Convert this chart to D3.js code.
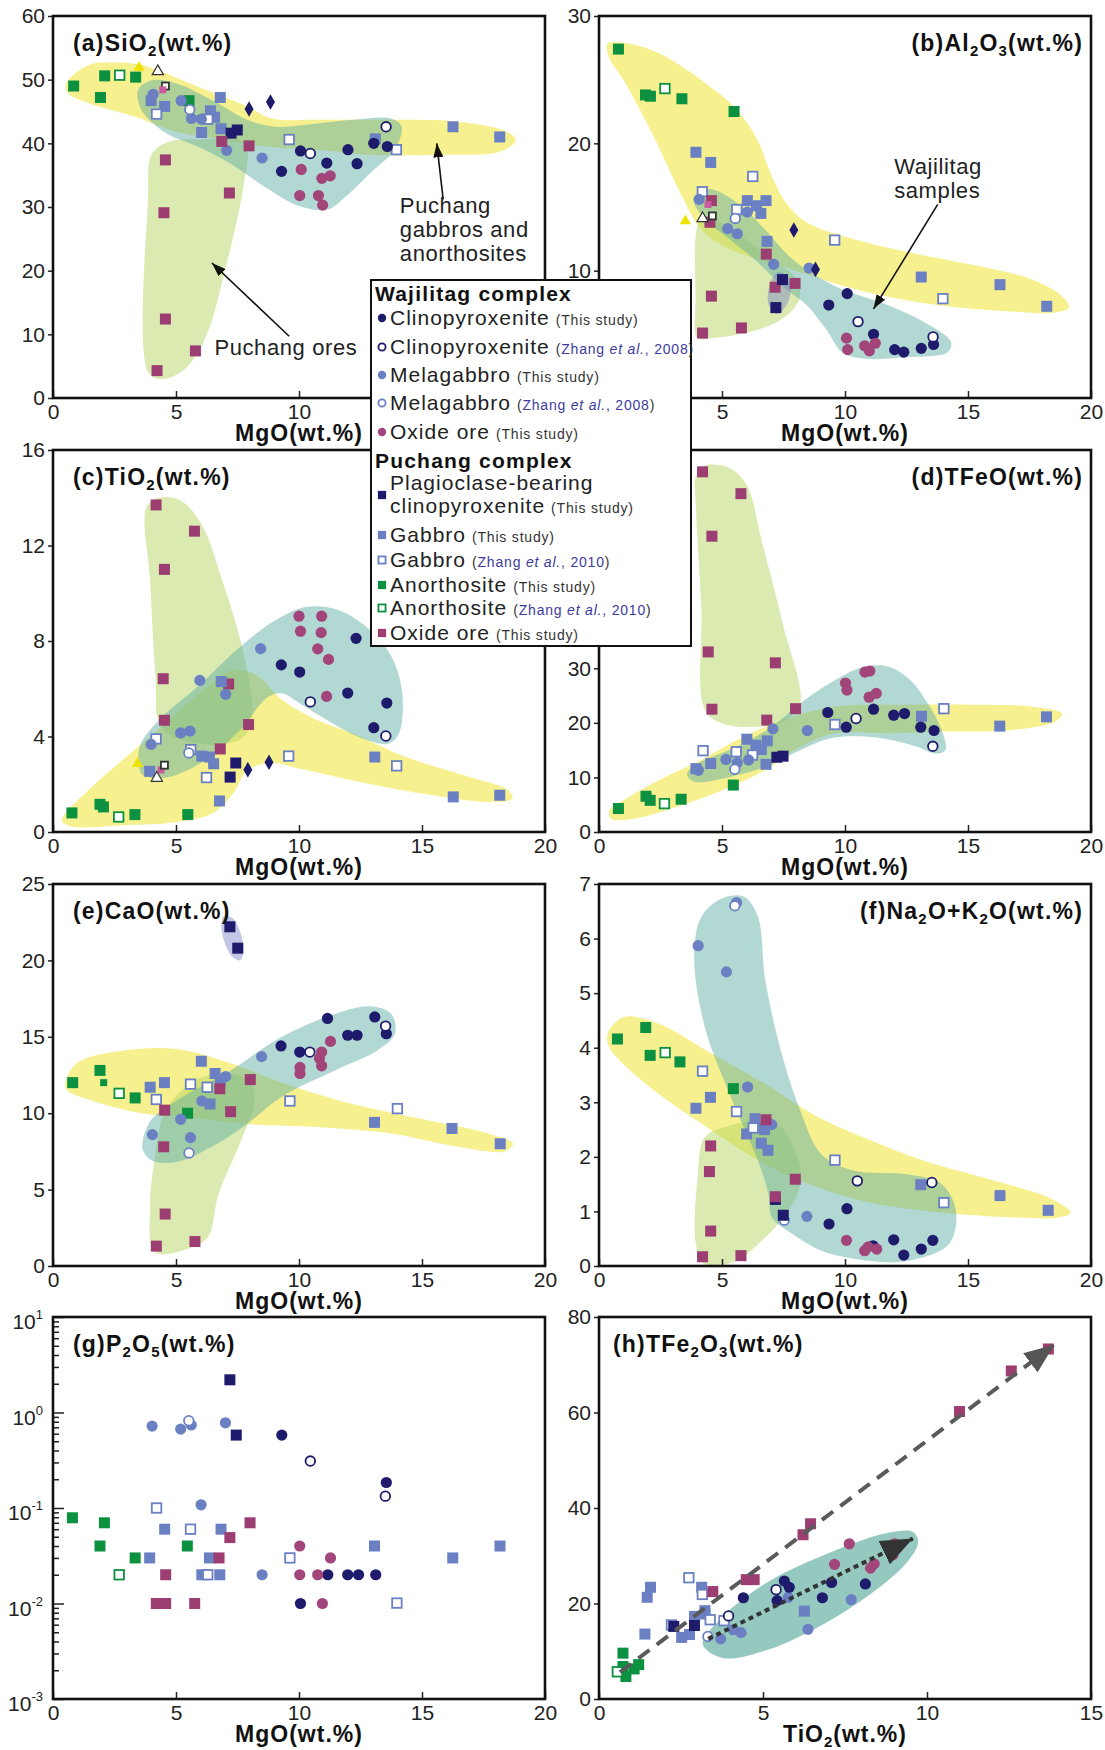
<!DOCTYPE html>
<html lang="en">
<head>
<meta charset="UTF-8">
<title>Wajilitag and Puchang complexes - major elements vs MgO</title>
<script src="https://d3js.org/d3.v7.min.js"></script>
<style>
  body { margin: 0; background: #fff; font-family: "Liberation Sans", Arial, sans-serif; }
  .axis path { display: none; }
  .axis line { stroke: #222; stroke-width: 1.5; }
  .axis text, .tlab { font-family: "Liberation Sans", Arial, sans-serif; font-size: 21px; fill: #222; }
  .ptitle { font-family: "Liberation Sans", Arial, sans-serif; font-size: 23px; font-weight: bold; fill: #111; letter-spacing: 1.2px; }
  .xlab { font-family: "Liberation Sans", Arial, sans-serif; font-size: 23px; font-weight: bold; fill: #111; letter-spacing: 1px; }
  .note { font-family: "Liberation Sans", Arial, sans-serif; font-size: 22px; fill: #222; letter-spacing: 0.6px; }
  .lgHead { font-size: 21px; font-weight: bold; fill: #111; letter-spacing: 1.2px; }
  .lgName { font-size: 21px; fill: #222; letter-spacing: 1px; }
  .lgRef { font-size: 14px; fill: #333; letter-spacing: 0.8px; }
</style>
</head>
<body>
<div id="chart"></div>
<script>
// ---------- data ----------
// each point: [series code, MgO (or TiO2 in h), oxide value]
const ptsA = [
  ["ano",0.84,49.0],["ano",2.1,50.6],["ano",1.93,47.2],["ano",3.36,50.4],["ano",5.53,46.7],
  ["anoZ",2.71,50.7],
  ["tri",3.5,51.9],["triW",4.26,51.3],["sqW",4.57,49.0],["sqP",4.46,48.4],
  ["gab",3.99,46.7],["gab",4.54,45.8],["gab",6.8,47.2],["gab",6.4,45.1],["gab",6.57,44.1],["gab",6.83,42.3],["gab",6.04,41.7],["gab",13.1,40.7],["gab",16.26,42.6],["gab",18.16,41.0],
  ["gabZ",4.21,44.6],["gabZ",6.29,43.8],["gabZ",9.6,40.6],["gabZ",13.96,39.0],
  ["mela",4.07,47.7],["mela",5.21,46.7],["mela",5.63,43.9],["mela",6.03,43.8],["mela",7.06,38.9],["mela",8.5,37.7],
  ["melaZ",5.56,45.3],
  ["cpx",10.06,38.8],["cpx",9.29,35.6],["cpx",11.13,36.9],["cpx",11.99,39.0],["cpx",12.36,36.8],["cpx",13.04,40.0],["cpx",13.59,39.5],
  ["cpxZ",10.46,38.4],["cpxZ",13.54,42.6],
  ["oreW",10.09,35.9],["oreW",10.93,34.5],["oreW",11.27,34.9],["oreW",10.03,31.8],["oreW",10.79,31.8],["oreW",10.96,30.3],
  ["pcpx",7.24,41.6],["pcpx",7.49,42.1],
  ["dia",7.97,45.4],["dia",8.84,46.5],
  ["oreP",6.86,40.3],["oreP",7.97,39.6],["oreP",4.57,37.4],["oreP",7.17,32.2],["oreP",4.51,29.1],["oreP",4.57,12.4],["oreP",5.79,7.4],["oreP",4.23,4.3]
];
const ptsB = [
  ["ano",0.79,27.4],["ano",1.89,23.8],["ano",2.09,23.7],["ano",3.37,23.5],["ano",5.49,22.5],
  ["anoZ",2.68,24.3],
  ["gab",3.94,19.3],["gab",4.54,18.5],["gab",6.03,15.5],["gab",6.4,15.1],["gab",6.79,15.5],["gab",6.58,14.5],["gab",6.83,12.3],["gab",13.1,9.5],["gab",16.3,8.9],["gab",18.2,7.2],
  ["gabZ",4.2,16.2],["gabZ",6.25,17.4],["gabZ",5.6,14.8],["gabZ",9.58,12.4],["gabZ",13.98,7.8],
  ["mela",4.07,15.6],["mela",6.03,14.6],["mela",5.23,13.3],["mela",5.62,12.9],["mela",7.1,10.5],["mela",8.54,10.2],
  ["melaZ",5.54,14.1],
  ["oreP",4.57,15.5],["oreP",4.51,13.8],["oreP",6.8,11.3],["oreP",7.16,8.7],["oreP",7.97,9.0],["oreP",4.57,8.0],["oreP",5.79,5.5],["oreP",4.21,5.1],
  ["tri",3.51,13.9],["triW",4.21,14.1],["sqW",4.61,14.3],["sqP",4.43,15.2],
  ["dia",7.92,13.2],["dia",8.8,10.1],
  ["pcpx",7.46,9.3],["pcpx",7.19,7.1],
  ["cpx",10.09,8.2],["cpx",9.34,7.3],["cpx",11.16,5.0],["cpx",12.02,3.8],["cpx",12.39,3.6],["cpx",13.1,3.9],["cpx",13.6,4.2],
  ["cpxZ",10.53,6.0],["cpxZ",13.58,4.8],
  ["oreW",10.06,4.7],["oreW",10.11,3.8],["oreW",10.8,4.1],["oreW",10.99,3.7],["oreW",11.23,4.3]
];
const ptsC = [
  ["ano",0.77,0.8],["ano",1.91,1.16],["ano",2.05,1.05],["ano",3.33,0.73],["ano",5.48,0.73],
  ["anoZ",2.67,0.63],
  ["oreP",4.19,13.7],["oreP",5.75,12.6],["oreP",4.53,11.0],["oreP",4.48,6.42],["oreP",4.53,4.68],["oreP",7.14,6.2],["oreP",7.95,4.5],["oreP",6.8,3.48],
  ["gab",6.84,6.3],["gab",3.93,2.54],["gab",6.05,3.18],["gab",6.36,3.14],["gab",6.53,2.86],["gab",6.77,1.3],["gab",13.08,3.14],["gab",16.27,1.47],["gab",18.16,1.54],
  ["gabZ",4.19,3.9],["gabZ",5.6,3.45],["gabZ",6.24,2.28],["gabZ",9.58,3.18],["gabZ",13.97,2.77],
  ["sqP",4.39,2.6],["sqW",4.53,2.8],["triW",4.22,2.26],["tri",3.44,2.86],
  ["mela",5.97,6.35],["mela",7.02,5.77],["mela",3.99,3.67],["mela",5.19,4.15],["mela",5.57,4.23],["mela",8.44,7.68],
  ["melaZ",5.52,3.31],
  ["pcpx",7.43,2.89],["pcpx",7.2,2.3],
  ["dia",7.92,2.61],["dia",8.78,2.92],
  ["cpx",9.28,7.0],["cpx",10.03,6.7],["cpx",12.32,8.11],["cpx",11.98,5.82],["cpx",13.04,4.37],["cpx",13.57,5.4],
  ["cpxZ",10.46,5.45],["cpxZ",13.53,4.02],
  ["oreW",10.0,9.04],["oreW",10.92,9.04],["oreW",10.06,8.41],["oreW",10.9,8.35],["oreW",10.76,7.67],["oreW",11.2,7.23],["oreW",11.12,5.68]
];
const ptsD = [
  ["oreP",4.21,66.0],["oreP",5.77,62.0],["oreP",4.59,54.2],["oreP",4.44,33.0],["oreP",7.17,31.0],["oreP",4.59,22.5],["oreP",7.99,22.6],["oreP",6.82,20.5],
  ["ano",0.79,4.3],["ano",1.91,6.55],["ano",2.08,5.8],["ano",3.34,6.0],["ano",5.46,8.6],
  ["anoZ",2.66,5.2],
  ["gab",3.94,11.6],["gab",4.54,12.55],["gab",6.01,17.0],["gab",6.38,15.9],["gab",6.6,15.1],["gab",6.84,16.7],["gab",6.79,12.4],["gab",13.11,21.2],["gab",16.29,19.4],["gab",18.19,21.1],
  ["gabZ",4.23,14.9],["gabZ",5.58,14.7],["gabZ",6.24,14.1],["gabZ",9.59,19.7],["gabZ",14.02,22.6],
  ["mela",4.04,11.3],["mela",5.16,13.3],["mela",5.62,12.7],["mela",6.08,13.2],["mela",7.07,18.9],["mela",8.47,18.6],
  ["melaZ",5.52,11.5],
  ["pcpx",7.23,13.7],["pcpx",7.48,13.9],
  ["cpx",9.3,21.9],["cpx",10.05,19.2],["cpx",11.16,22.5],["cpx",11.98,21.4],["cpx",12.42,21.7],["cpx",13.08,19.2],["cpx",13.62,18.6],
  ["cpxZ",10.45,20.8],["cpxZ",13.57,15.7],
  ["oreW",10.02,27.3],["oreW",10.08,26.0],["oreW",10.81,29.3],["oreW",11.01,29.5],["oreW",10.98,24.7],["oreW",11.27,25.4]
];
const ptsE = [
  ["pcpx",7.19,22.2],["pcpx",7.51,20.8],
  ["ano",0.8,12.0],["ano",1.91,12.8],["anoS",2.06,12.0],["ano",3.34,11.0],["ano",5.47,10.0],
  ["anoZ",2.69,11.3],
  ["gab",3.95,11.7],["gab",4.53,12.0],["gab",6.03,13.4],["gab",6.59,12.6],["gab",6.8,12.1],["gab",6.38,10.6],["gab",13.07,9.4],["gab",16.22,9.0],["gab",18.18,8.0],
  ["gabZ",4.2,10.9],["gabZ",5.59,11.9],["gabZ",6.27,11.7],["gabZ",9.63,10.8],["gabZ",14.0,10.3],
  ["mela",4.04,8.6],["mela",5.19,9.6],["mela",5.59,8.4],["mela",6.05,10.8],["mela",7.02,12.4],["mela",8.48,13.7],
  ["melaZ",5.53,7.4],
  ["oreP",4.54,10.2],["oreP",4.5,7.8],["oreP",4.56,3.4],["oreP",4.2,1.3],["oreP",5.77,1.6],["oreP",6.78,11.6],["oreP",7.22,10.1],["oreP",8.02,12.2],
  ["cpx",9.27,14.4],["cpx",10.03,14.0],["cpx",11.16,16.2],["cpx",11.98,15.1],["cpx",12.36,15.1],["cpx",13.08,16.3],["cpx",13.55,15.2],
  ["cpxZ",10.44,14.0],["cpxZ",13.52,15.7],
  ["oreW",10.04,13.0],["oreW",10.04,12.6],["oreW",10.92,14.0],["oreW",10.83,13.6],["oreW",10.92,13.1],["oreW",11.28,14.7]
];
const ptsF = [
  ["mela",5.59,6.66],["mela",4.03,5.87],["mela",5.18,5.39],["mela",6.04,3.28],["mela",7.02,2.59],["mela",8.45,0.91],
  ["melaZ",5.52,6.6],["melaZ",7.53,0.84],
  ["ano",0.75,4.16],["ano",1.9,4.37],["ano",2.08,3.86],["ano",3.29,3.74],["ano",5.46,3.25],
  ["anoZ",2.69,3.91],
  ["gab",3.94,2.89],["gab",4.53,3.09],["gab",6.34,2.7],["gab",6.73,2.5],["gab",6.0,2.42],["gab",6.6,2.25],["gab",6.87,2.12],["gab",13.08,1.49],["gab",16.3,1.29],["gab",18.26,1.02],
  ["gabZ",4.21,3.57],["gabZ",5.59,2.83],["gabZ",6.27,2.53],["gabZ",9.59,1.94],["gabZ",14.02,1.16],
  ["pcpx",7.17,1.22],["pcpx",7.49,0.93],
  ["oreP",6.79,2.68],["oreP",4.54,2.2],["oreP",4.49,1.73],["oreP",4.54,0.64],["oreP",4.21,0.17],["oreP",5.77,0.19],["oreP",7.17,1.27],["oreP",7.98,1.59],
  ["cpx",10.08,1.05],["cpx",9.35,0.77],["cpx",11.14,0.37],["cpx",11.98,0.48],["cpx",12.39,0.2],["cpx",13.1,0.31],["cpx",13.57,0.47],
  ["cpxZ",10.5,1.56],["cpxZ",13.53,1.53],
  ["oreW",10.06,0.47],["oreW",10.8,0.28],["oreW",10.94,0.35],["oreW",11.29,0.31]
];
const ptsG = [
  ["pcpx",7.19,2.2],["pcpx",7.45,0.58],
  ["mela",4.03,0.72],["mela",5.19,0.67],["mela",5.62,0.74],["mela",7.01,0.78],["mela",6.02,0.108],["mela",8.5,0.02],
  ["melaZ",5.52,0.82],
  ["cpx",9.3,0.58],["cpx",13.55,0.185],["cpx",10.06,0.01],["cpx",11.17,0.02],["cpx",11.98,0.02],["cpx",12.42,0.02],["cpx",13.12,0.02],
  ["cpxZ",10.46,0.31],["cpxZ",13.51,0.133],
  ["gab",4.54,0.06],["gab",6.83,0.06],["gab",3.93,0.03],["gab",6.36,0.03],["gab",6.05,0.02],["gab",6.78,0.02],["gab",13.07,0.04],["gab",16.25,0.03],["gab",18.17,0.04],
  ["gabZ",4.21,0.1],["gabZ",5.59,0.06],["gabZ",6.29,0.02],["gabZ",9.63,0.03],["gabZ",13.98,0.0101],
  ["ano",0.79,0.079],["ano",2.09,0.07],["ano",1.91,0.04],["ano",3.34,0.03],["ano",5.46,0.04],
  ["anoZ",2.69,0.02],
  ["oreP",8.01,0.07],["oreP",7.19,0.049],["oreP",6.75,0.03],["oreP",4.58,0.02],["oreP",4.2,0.01],["oreP",4.37,0.01],["oreP",4.58,0.01],["oreP",5.76,0.01],
  ["oreW",10.03,0.04],["oreW",11.28,0.03],["oreW",10.03,0.02],["oreW",10.76,0.02],["oreW",10.95,0.01]
];
const ptsH = [
  ["ano",0.73,9.6],["ano",0.73,6.8],["ano",0.82,4.7],["ano",1.07,6.3],["ano",1.21,7.2],
  ["anoZ",0.56,5.7],
  ["gab",1.57,23.4],["gab",1.47,21.3],["gab",1.4,13.6],["gab",2.52,12.9],["gab",2.76,13.5],["gab",2.91,17.3],["gab",3.13,23.4],["gab",3.23,18.5],["gab",3.23,17.8],["gab",6.26,18.4],
  ["gabZ",2.74,25.4],["gabZ",3.15,21.9],["gabZ",2.21,15.5],["gabZ",3.39,16.6],["gabZ",3.81,16.4],
  ["pcpx",2.28,15.2],["pcpx",2.91,15.4],
  ["oreP",3.47,22.5],["oreP",4.49,25.0],["oreP",4.73,25.0],["oreP",6.22,34.4],["oreP",6.45,36.7],["oreP",10.99,60.2],["oreP",12.57,68.7],["oreP",13.7,73.3],
  ["mela",3.71,12.6],["mela",4.33,13.9],["mela",4.09,14.5],["mela",5.77,21.3],["mela",6.37,14.6],["mela",7.69,20.8],
  ["melaZ",3.32,13.1],
  ["cpx",4.4,21.2],["cpx",5.43,20.6],["cpx",5.65,24.7],["cpx",5.8,23.4],["cpx",6.81,21.2],["cpx",7.09,24.4],["cpx",8.12,24.1],
  ["cpxZ",5.4,22.9],["cpxZ",3.95,17.4],
  ["oreW",7.63,32.5],["oreW",7.18,28.2],["oreW",8.28,27.4],["oreW",8.39,28.3],["oreW",8.96,30.2],["oreW",9.01,32.5]
];

// field outlines (data units)
const aYellow = [[0.53,49.4],[1.46,52.3],[2.31,52.7],[3.6,52.3],[5.89,48.9],[7.89,45.8],[8.89,43.9],[10.74,43.7],[13.6,43.7],[16.46,43.4],[18.46,41.8],[18.81,40.5],[18.17,38.7],[15.74,38.2],[12.89,38.2],[10.74,39.0],[8.6,39.5],[7.03,40.5],[5.03,41.8],[3.31,44.2],[1.46,46.3],[0.6,47.9]];
const aGreen = [[3.89,3.9],[3.86,31.1],[4.03,38.4],[4.74,40.3],[5.89,40.6],[7.6,40.5],[7.89,39.5],[7.74,33.2],[7.03,20.7],[6.17,9.2],[5.31,4.4],[4.46,3.0]];
const aTeal = [[3.46,48.4],[4.03,49.9],[5.03,49.4],[6.46,46.8],[7.89,43.7],[9.03,42.6],[10.74,43.1],[12.17,43.7],[13.74,43.9],[14.17,42.6],[13.89,39.0],[13.03,35.8],[11.89,31.6],[11.17,29.6],[10.03,30.1],[8.6,33.2],[7.17,36.9],[5.89,39.5],[4.6,41.6],[3.6,45.2]];
const bYellow = [[0.34,27.8],[0.99,27.9],[2.42,27.1],[4.14,25.0],[5.57,22.7],[6.43,20.3],[7.01,17.5],[7.58,15.4],[8.44,13.8],[10.3,12.5],[12.45,11.5],[15.32,10.4],[17.46,9.4],[18.75,8.1],[19.11,7.1],[18.47,6.7],[16.75,6.8],[14.6,7.1],[12.45,7.7],[10.3,8.6],[8.15,9.9],[6.43,10.9],[5.0,12.0],[4.14,13.3],[3.28,16.2],[2.13,20.9],[0.99,25.0],[0.42,26.7]];
const bGreen = [[4.0,13.5],[4.28,14.3],[5.57,13.0],[7.0,10.9],[8.0,9.4],[8.15,7.8],[7.44,6.2],[6.15,5.2],[4.57,4.7],[4.0,4.7],[3.93,7.8]];
const bTeal = [[3.85,15.6],[4.43,16.4],[5.57,15.4],[6.72,13.3],[7.87,10.9],[9.58,8.8],[11.73,7.3],[13.17,6.0],[14.31,4.4],[14.17,3.6],[12.45,3.2],[10.73,3.1],[9.87,3.6],[9.3,5.2],[8.44,7.3],[7.44,8.8],[6.43,10.7],[5.29,12.5],[4.28,14.1]];
const bLav = [[7.3,9.9],[7.75,9.3],[7.7,7.6],[7.25,6.6],[6.9,7.3],[6.95,9.0]];
const cYellow = [[0.36,0.49],[1.58,1.89],[3.3,3.42],[5.02,4.96],[6.46,6.22],[7.17,6.75],[8.18,6.63],[9.33,5.52],[10.76,4.68],[12.2,4.12],[14.35,3.14],[16.93,2.3],[18.5,1.75],[18.68,1.4],[17.65,1.26],[15.06,1.6],[12.2,2.16],[10.04,2.65],[8.9,2.89],[7.89,2.58],[7.32,1.6],[6.46,0.77],[5.02,0.42],[2.87,0.28],[0.72,0.24]];
const cGreen = [[3.8,13.6],[4.3,14.0],[5.16,13.9],[6.03,12.9],[6.89,10.5],[7.75,7.47],[8.1,4.96],[7.75,3.98],[6.74,3.67],[5.31,3.84],[4.38,4.4],[4.16,6.63],[3.95,10.5]];
const cTeal = [[3.59,2.44],[3.52,3.56],[4.3,4.68],[5.88,6.08],[7.6,7.75],[9.04,8.87],[10.33,9.43],[11.62,9.29],[12.9,8.45],[13.77,7.33],[14.2,5.8],[14.06,4.12],[13.63,3.7],[12.77,3.84],[11.62,4.4],[10.04,5.38],[9.33,5.8],[8.75,5.66],[7.6,4.26],[6.17,3.0],[4.73,2.3],[3.87,2.3]];
const dYellow = [[0.42,4.0],[0.99,5.8],[2.43,9.5],[4.16,13.2],[5.59,16.8],[7.46,20.5],[9.62,23.0],[12.49,23.3],[15.37,23.3],[17.53,23.0],[18.82,21.7],[18.53,20.2],[16.81,18.7],[13.93,18.4],[11.78,18.1],[9.62,18.1],[8.18,15.6],[6.74,11.3],[5.02,7.65],[3.15,4.6],[1.42,2.45],[0.49,2.45]];
const dGreen = [[3.94,65.2],[4.3,67.1],[5.31,66.7],[6.02,63.4],[6.6,53.6],[7.46,38.3],[8.18,23.6],[7.61,20.5],[6.46,19.3],[5.02,19.9],[4.3,22.4],[4.16,41.3],[3.94,59.7]];
const dTeal = [[3.65,11.3],[4.16,12.9],[5.59,15.6],[7.03,19.3],[8.18,23.6],[9.62,27.9],[10.77,30.3],[11.78,30.3],[12.64,27.9],[13.36,23.6],[13.93,18.7],[14.08,15.0],[13.64,14.4],[12.93,15.6],[11.92,16.8],[10.77,17.5],[9.33,17.1],[8.18,15.0],[6.74,11.9],[5.31,10.1],[3.87,9.2],[3.58,10.4]];
const eYellow = [[0.5,12.0],[1.0,13.3],[2.87,14.1],[5.01,14.2],[7.16,13.3],[9.31,12.0],[12.18,10.6],[15.04,9.6],[17.62,8.7],[18.7,8.0],[18.34,7.5],[16.48,7.8],[13.61,8.7],[10.74,9.1],[7.88,9.3],[5.73,9.7],[3.58,10.0],[1.43,10.9],[0.57,11.5]];
const eGreen = [[4.15,7.2],[4.58,10.2],[5.87,12.2],[7.16,12.6],[8.02,12.0],[8.17,10.6],[7.59,8.0],[6.73,4.7],[6.3,1.9],[5.59,1.2],[4.15,0.9],[3.94,3.7]];
const eTeal = [[3.65,8.2],[4.01,9.6],[5.3,11.1],[7.02,12.6],[9.31,15.0],[11.46,16.5],[12.89,17.0],[13.75,16.5],[13.9,15.2],[13.18,14.1],[11.46,12.8],[9.31,11.1],[7.88,9.3],[6.45,7.8],[5.01,6.8],[4.01,6.9],[3.65,7.6]];
const eLav = [[6.95,22.9],[7.35,22.7],[7.75,20.8],[7.6,20.0],[7.25,20.3],[6.85,22.0]];
const fYellow = [[0.35,4.26],[0.99,4.56],[2.43,4.44],[4.59,3.89],[6.74,3.34],[8.9,2.73],[11.06,2.3],[13.21,1.93],[16.09,1.56],[18.25,1.26],[19.18,0.98],[18.68,0.89],[16.81,0.89],[13.93,0.98],[11.06,1.16],[8.9,1.44],[6.74,1.87],[4.59,2.48],[2.43,3.15],[0.99,3.7],[0.42,4.01]];
const fGreen = [[4.3,2.36],[5.31,2.57],[6.46,2.66],[7.32,2.57],[8.03,2.05],[8.18,1.5],[7.6,0.95],[6.46,0.4],[5.59,0.09],[4.3,0.03],[3.94,0.4],[4.01,1.62]];
const fTeal = [[3.87,5.66],[4.16,6.4],[5.02,6.74],[5.88,6.77],[6.46,6.4],[6.74,5.3],[7.32,4.07],[8.18,2.85],[9.04,2.05],[10.34,1.75],[12.49,1.68],[13.93,1.5],[14.51,1.01],[14.22,0.4],[12.49,0.09],[11.06,0.09],[9.04,0.28],[7.89,0.58],[7.03,0.89],[6.89,1.32],[6.46,1.93],[5.31,3.15],[4.3,4.38]];
const hTeal = [[3.16,11.5],[3.65,16.4],[5.05,24.1],[7.2,31.1],[8.82,34.8],[9.57,35.0],[9.73,32.9],[9.35,28.3],[8.28,22.0],[6.66,15.0],[5.05,10.1],[3.76,8.6]];

// annotation text and arrows (data units)
const notesA = [{lines:["Puchang","gabbros and","anorthosites"], x:14.1, y:29.0}, {lines:["Puchang  ores"], x:6.56, y:6.8}];
const arrowsA = [[15.86,31.2,15.6,40.0], [9.6,9.7,6.46,21.2]];
const notesB = [{lines:["Wajilitag","samples"], x:12.0, y:17.6}];
const arrowsB = [[13.77,15.2,11.16,7.0]];
const trendH = { dashed:[0.64,5.6,13.88,74.2], dotted:[3.33,12.6,9.57,33.6] };

// legend entries
const legendWaj = [
  ["cpx","Clinopyroxenite","This study"],
  ["cpxZ","Clinopyroxenite","Zhang et al., 2008"],
  ["mela","Melagabbro","This study"],
  ["melaZ","Melagabbro","Zhang et al., 2008"],
  ["oreW","Oxide  ore","This study"]
];
const legendPuc = [
  ["pcpx","Plagioclase-bearing|clinopyroxenite","This study"],
  ["gab","Gabbro","This study"],
  ["gabZ","Gabbro","Zhang et al., 2010"],
  ["ano","Anorthosite","This study"],
  ["anoZ","Anorthosite","Zhang et al., 2010"],
  ["oreP","Oxide  ore","This study"]
];

// ---------- styles ----------
const navy = "#1e1a6c", blue = "#6a80c3", green = "#0c9141";
const sty = {
  cpx:  {shape:"circle", fill:navy},
  cpxZ: {shape:"circle", fill:"#fff", stroke:navy},
  mela: {shape:"circle", fill:blue},
  melaZ:{shape:"circle", fill:"#fff", stroke:blue},
  oreW: {shape:"circle", fill:"#a2457a"},
  pcpx: {shape:"square", fill:navy},
  gab:  {shape:"square", fill:blue},
  gabZ: {shape:"square", fill:"#fff", stroke:blue},
  ano:  {shape:"square", fill:green},
  anoS: {shape:"small", fill:green},
  anoZ: {shape:"square", fill:"#fff", stroke:green},
  oreP: {shape:"square", fill:"#9c3e72"},
  tri:  {shape:"triangle", fill:"#efe200"},
  triW: {shape:"triangle", fill:"#fff", stroke:"#333"},
  sqW:  {shape:"small", fill:"#fff", stroke:"#333"},
  sqP:  {shape:"small", fill:"#c95b9e"},
  dia:  {shape:"diamond", fill:navy}
};
const regionFill = {
  yellow: ["#f1e64a", 0.62],
  green:  ["#b5d662", 0.5],
  teal:   ["#5faea3", 0.48],
  lav:    ["#7a82c6", 0.45],
  tealH:  ["#4ea595", 0.6]
};

// ---------- layout ----------
const W = 1105, H = 1750;
const colX = [53, 599], pw = 492, ph = 382;
const rowY = [16, 450, 884, 1317];

// hideX / hideY: tick labels that sit under the legend box
const panels = [
  {id:"a", x:colX[0], y:rowY[0], xDom:[0,20], yDom:[0,60], yTicks:d3.range(0,61,10), xTicks:[0,5,10,15,20], hideX:[15,20],
   title:["(a)SiO",["2"],"(wt.%)"], right:false, pts:ptsA, regions:[["yellow",aYellow],["green",aGreen],["teal",aTeal]], notes:notesA, arrows:arrowsA},
  {id:"b", x:colX[1], y:rowY[0], xDom:[0,20], yDom:[0,30], yTicks:[0,10,20,30], xTicks:[0,5,10,15,20], hideX:[0], hideY:[0],
   title:["(b)Al",["2"],"O",["3"],"(wt.%)"], right:true, pts:ptsB, regions:[["yellow",bYellow],["green",bGreen],["teal",bTeal],["lav",bLav]], notes:notesB, arrows:arrowsB},
  {id:"c", x:colX[0], y:rowY[1], xDom:[0,20], yDom:[0,16], yTicks:[0,4,8,12,16], xTicks:[0,5,10,15,20],
   title:["(c)TiO",["2"],"(wt.%)"], right:false, pts:ptsC, regions:[["yellow",cYellow],["green",cGreen],["teal",cTeal]]},
  {id:"d", x:colX[1], y:rowY[1], xDom:[0,20], yDom:[0,70], yTicks:d3.range(0,71,10), xTicks:[0,5,10,15,20], hideY:[40,50,60,70],
   title:["(d)TFeO(wt.%)"], right:true, pts:ptsD, regions:[["yellow",dYellow],["green",dGreen],["teal",dTeal]]},
  {id:"e", x:colX[0], y:rowY[2], xDom:[0,20], yDom:[0,25], yTicks:[0,5,10,15,20,25], xTicks:[0,5,10,15,20],
   title:["(e)CaO(wt.%)"], right:false, pts:ptsE, regions:[["yellow",eYellow],["green",eGreen],["teal",eTeal],["lav",eLav]]},
  {id:"f", x:colX[1], y:rowY[2], xDom:[0,20], yDom:[0,7], yTicks:d3.range(0,8), xTicks:[0,5,10,15,20],
   title:["(f)Na",["2"],"O+K",["2"],"O(wt.%)"], right:true, pts:ptsF, regions:[["yellow",fYellow],["green",fGreen],["teal",fTeal]]},
  {id:"g", x:colX[0], y:rowY[3], xDom:[0,20], yDom:[1e-3,10], log:true, xTicks:[0,5,10,15,20],
   title:["(g)P",["2"],"O",["5"],"(wt.%)"], right:false, pts:ptsG, regions:[]},
  {id:"h", x:colX[1], y:rowY[3], xDom:[0,15], yDom:[0,80], yTicks:[0,20,40,60,80], xTicks:[0,5,10,15],
   title:["(h)TFe",["2"],"O",["3"],"(wt.%)"], right:false, titleDx:14, xLabel:["TiO",["2"],"(wt.%)"], pts:ptsH, regions:[["tealH",hTeal]], trend:trendH}
];

const svg = d3.select("#chart").append("svg").attr("width", W).attr("height", H)
  .style("background", "#fff");
const defs = svg.append("defs");

function addHead(id, color, w, l) {
  defs.append("marker").attr("id", id).attr("viewBox", `0 0 ${l} ${w}`)
    .attr("refX", l).attr("refY", w / 2).attr("markerWidth", l).attr("markerHeight", w)
    .attr("markerUnits", "userSpaceOnUse").attr("orient", "auto")
    .append("path").attr("d", `M0,0L${l},${w / 2}L0,${w}Z`).attr("fill", color);
}
addHead("headBlack", "#111", 10, 14);
addHead("headGray", "#555", 24, 30);
addHead("headDark", "#333", 26, 32);

// rich text with subscripts: segments are strings or [subscript]
function richText(sel, segs, subSize) {
  let down = false;
  segs.forEach(s => {
    if (Array.isArray(s)) {
      sel.append("tspan").attr("dy", down ? 0 : 5).attr("font-size", subSize).text(s[0]);
      down = true;
    } else {
      sel.append("tspan").attr("dy", down ? -5 : 0).text(s);
      down = false;
    }
  });
}

function drawMark(g, code, cx, cy, scale) {
  const s = sty[code];
  const k = scale || 1;
  const open = !!s.stroke;
  const sw = 1.8;
  if (s.shape === "circle") {
    g.append("circle").attr("cx", cx).attr("cy", cy).attr("r", (open ? 4.8 : 5.6) * k)
      .attr("fill", s.fill).attr("stroke", s.stroke || "none").attr("stroke-width", sw);
  } else if (s.shape === "square" || s.shape === "small") {
    const side = (s.shape === "small" ? 7 : (open ? 9.5 : 11)) * k;
    g.append("rect").attr("x", cx - side / 2).attr("y", cy - side / 2).attr("width", side).attr("height", side)
      .attr("fill", s.fill).attr("stroke", s.stroke || "none").attr("stroke-width", open ? sw : 0);
  } else {
    const type = s.shape === "triangle" ? d3.symbolTriangle : d3.symbolDiamond;
    const size = s.shape === "triangle" ? 55 : 70;
    g.append("path").attr("transform", `translate(${cx},${cy})`)
      .attr("d", d3.symbol().type(type).size(size * k * k)())
      .attr("fill", s.fill).attr("stroke", s.stroke || "none").attr("stroke-width", 1.2);
  }
}

function labelFmt(hide) {
  const h = hide || [];
  return v => h.includes(v) ? "" : d3.format("d")(v);
}

function drawPanel(p) {
  const g = svg.append("g").attr("transform", `translate(${p.x},${p.y})`);
  const x = d3.scaleLinear().domain(p.xDom).range([0, pw]);
  const y = (p.log ? d3.scaleLog() : d3.scaleLinear()).domain(p.yDom).range([ph, 0]);

  const cid = "clip-" + p.id;
  defs.append("clipPath").attr("id", cid).append("rect").attr("width", pw).attr("height", ph);
  const body = g.append("g").attr("clip-path", `url(#${cid})`);

  // shaded fields
  const outline = d3.line().x(d => x(d[0])).y(d => y(d[1])).curve(d3.curveCatmullRomClosed.alpha(0.5));
  p.regions.forEach(([kind, pts]) => {
    body.append("path").attr("d", outline(pts))
      .attr("fill", regionFill[kind][0]).attr("fill-opacity", regionFill[kind][1]);
  });

  // axes
  g.append("g").attr("class", "axis").attr("transform", `translate(0,${ph})`)
    .call(d3.axisBottom(x).tickValues(p.xTicks).tickSize(-7).tickPadding(6).tickFormat(labelFmt(p.hideX)));
  if (p.log) {
    const majors = [1e-3, 1e-2, 1e-1, 1, 10];
    const minors = [];
    for (let e = -3; e < 1; e++) for (let m = 2; m < 10; m++) minors.push(m * Math.pow(10, e));
    g.append("g").attr("class", "axis").call(d3.axisLeft(y).tickValues(minors).tickSize(-6).tickFormat(""));
    g.append("g").attr("class", "axis").call(d3.axisLeft(y).tickValues(majors).tickSize(-11).tickFormat(""));
    majors.forEach(v => {
      const t = g.append("text").attr("class", "tlab").attr("x", -10).attr("y", y(v) + 12).attr("text-anchor", "end");
      t.append("tspan").text("10");
      t.append("tspan").attr("dy", -10).attr("font-size", 13).text(Math.round(Math.log10(v)));
    });
  } else {
    g.append("g").attr("class", "axis")
      .call(d3.axisLeft(y).tickValues(p.yTicks).tickSize(5).tickPadding(3).tickFormat(labelFmt(p.hideY)));
  }

  // frame
  g.append("rect").attr("width", pw).attr("height", ph).attr("fill", "none")
    .attr("stroke", "#111").attr("stroke-width", 2.6);

  // points
  const pg = body.append("g");
  p.pts.forEach(d => drawMark(pg, d[0], x(d[1]), y(d[2])));

  // trend arrows (panel h)
  if (p.trend) {
    const dsh = p.trend.dashed, dot = p.trend.dotted;
    g.append("line").attr("x1", x(dsh[0])).attr("y1", y(dsh[1])).attr("x2", x(dsh[2])).attr("y2", y(dsh[3]))
      .attr("stroke", "#5a5a5a").attr("stroke-width", 4).attr("stroke-dasharray", "14,9")
      .attr("marker-end", "url(#headGray)");
    g.append("line").attr("x1", x(dot[0])).attr("y1", y(dot[1])).attr("x2", x(dot[2])).attr("y2", y(dot[3]))
      .attr("stroke", "#333").attr("stroke-width", 4).attr("stroke-dasharray", "5,4")
      .attr("marker-end", "url(#headDark)");
  }

  // annotations
  (p.arrows || []).forEach(a => {
    g.append("line").attr("x1", x(a[0])).attr("y1", y(a[1])).attr("x2", x(a[2])).attr("y2", y(a[3]))
      .attr("stroke", "#111").attr("stroke-width", 1.6).attr("marker-end", "url(#headBlack)");
  });
  (p.notes || []).forEach(n => {
    n.lines.forEach((ln, i) => {
      g.append("text").attr("class", "note").attr("x", x(n.x)).attr("y", y(n.y) + i * 24).text(ln);
    });
  });

  // title
  const tt = g.append("text").attr("class", "ptitle").attr("y", 35)
    .attr("x", p.right ? pw - 8 : (p.titleDx || 20)).attr("text-anchor", p.right ? "end" : "start");
  richText(tt, p.title, 15);

  // x label
  const xl = g.append("text").attr("class", "xlab").attr("x", pw / 2).attr("y", ph + 43).attr("text-anchor", "middle");
  richText(xl, p.xLabel || ["MgO(wt.%)"], 15);
}

panels.forEach(drawPanel);

// ---------- legend ----------
const lg = svg.append("g");
lg.append("rect").attr("x", 371).attr("y", 280).attr("width", 320).attr("height", 366)
  .attr("fill", "#fff").attr("stroke", "#111").attr("stroke-width", 2);

const refColor = "#3b3b9e";
function refText(t, ref) {
  const r = t.append("tspan").attr("class", "lgRef").attr("dx", 6);
  if (ref.startsWith("Zhang")) {
    r.text("(");
    t.append("tspan").attr("class", "lgRef").style("fill", refColor).text("Zhang ");
    t.append("tspan").attr("class", "lgRef").style("fill", refColor).style("font-style", "italic").text("et al.");
    t.append("tspan").attr("class", "lgRef").style("fill", refColor).text(ref.replace("Zhang et al.", ""));
    t.append("tspan").attr("class", "lgRef").text(")");
  } else {
    r.text("(" + ref + ")");
  }
}

function legendBlock(head, headY, entries, rowsY) {
  lg.append("text").attr("class", "lgHead").attr("x", 375).attr("y", headY).text(head);
  entries.forEach((e, i) => {
    const names = e[1].split("|");
    const yy = rowsY[i];
    if (names.length === 1) {
      drawMark(lg, e[0], 382, yy - 7, 0.75);
      const t = lg.append("text").attr("x", 390).attr("y", yy);
      t.append("tspan").attr("class", "lgName").text(names[0]);
      refText(t, e[2]);
    } else {
      drawMark(lg, e[0], 382, yy + 5, 0.75);
      lg.append("text").attr("x", 390).attr("y", yy).append("tspan").attr("class", "lgName").text(names[0]);
      const t = lg.append("text").attr("x", 390).attr("y", yy + 23);
      t.append("tspan").attr("class", "lgName").text(names[1]);
      refText(t, e[2]);
    }
  });
}
legendBlock("Wajilitag  complex", 301, legendWaj, [325, 354, 382, 410, 439]);
legendBlock("Puchang  complex", 468, legendPuc, [490, 542, 567, 592, 615, 640]);
</script>
</body>
</html>
